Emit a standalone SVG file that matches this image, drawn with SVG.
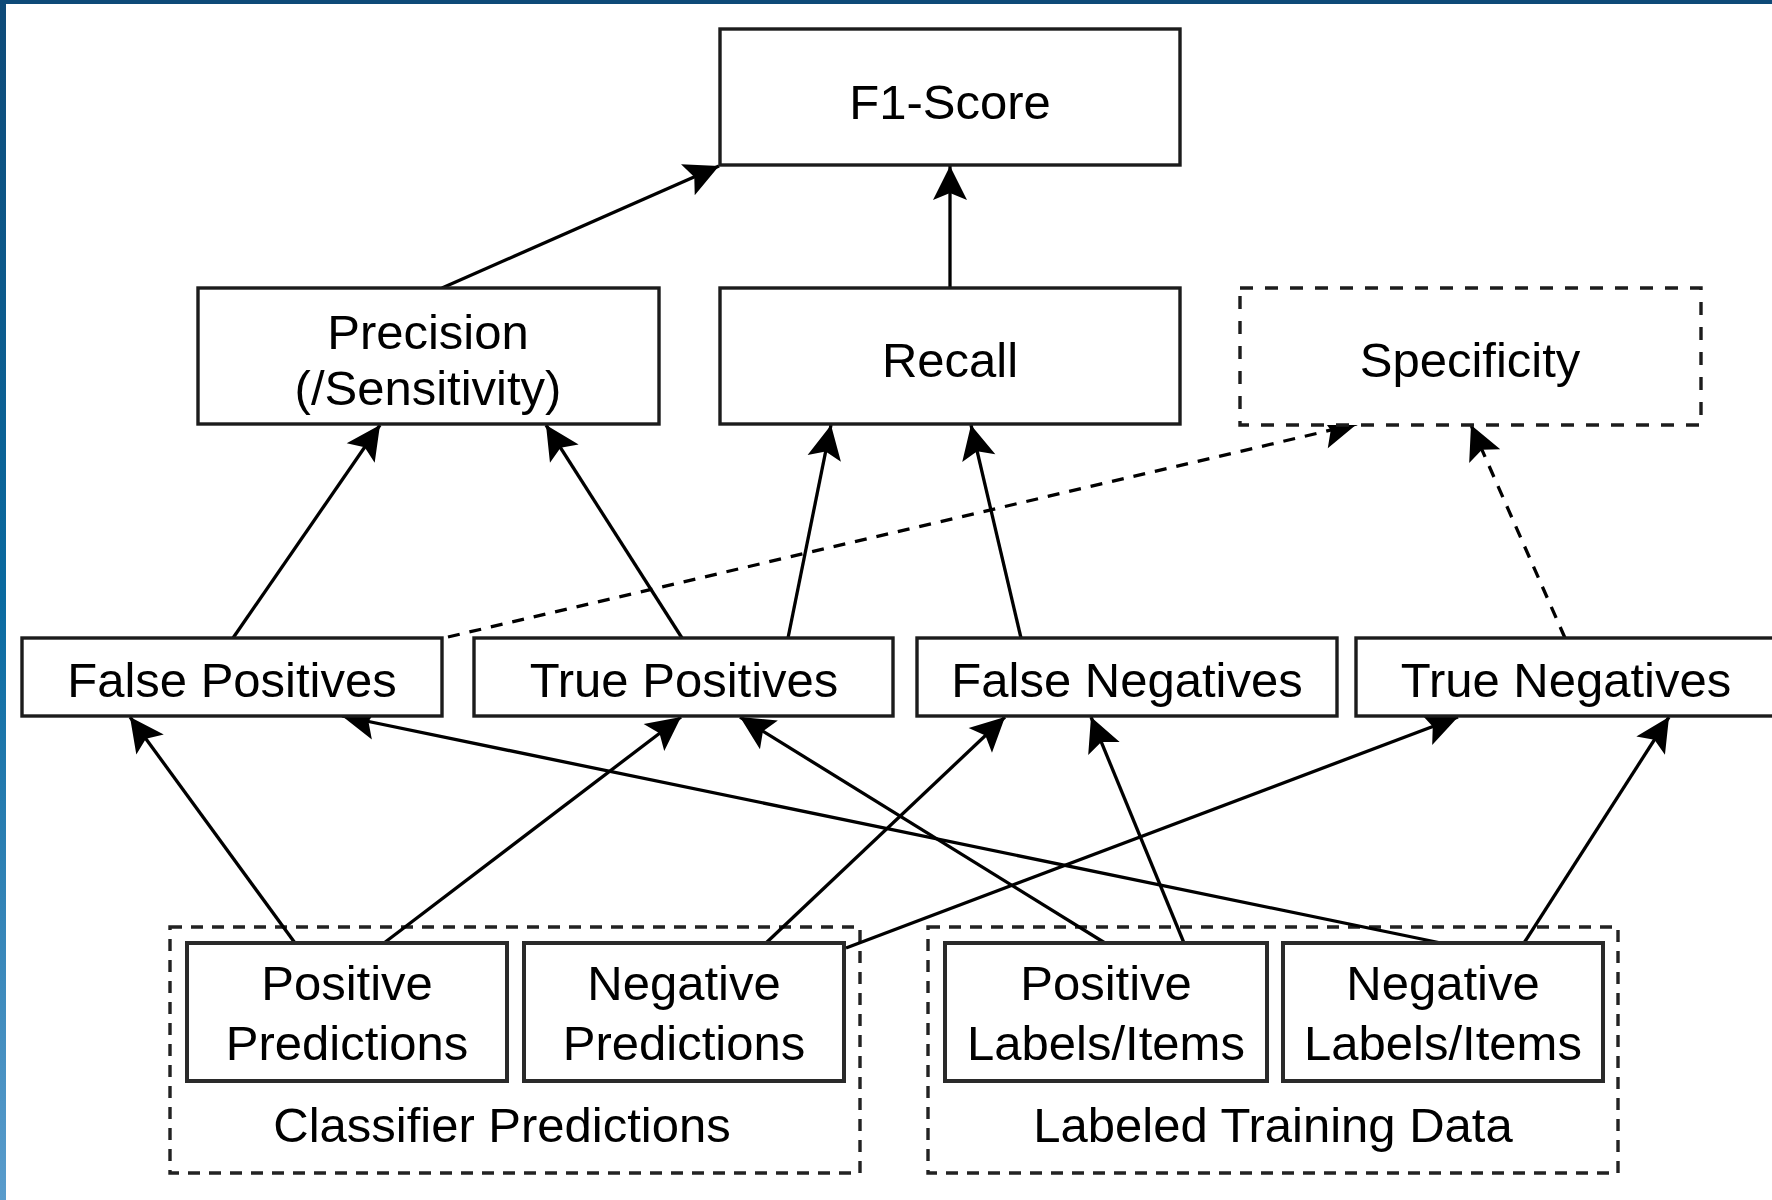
<svg xmlns="http://www.w3.org/2000/svg" width="1772" height="1200" viewBox="0 0 1772 1200">
<defs>
<linearGradient id="leftBar" x1="0" y1="0" x2="0" y2="1">
<stop offset="0" stop-color="#0e4a78"/>
<stop offset="0.5" stop-color="#0a6aa0"/>
<stop offset="1" stop-color="#5a9ccc"/>
</linearGradient>
<marker id="arr" markerUnits="userSpaceOnUse" markerWidth="44" markerHeight="40" viewBox="-36 -20 40 40" refX="0" refY="0" orient="auto">
<path d="M0,0 L-34,-17 L-27,0 L-34,17 Z" fill="#000"/>
</marker>
<style>
.box{fill:#fff;stroke:#1c1c1c;stroke-width:3.4}
.bbox{fill:#fff;stroke:#2a2a2a;stroke-width:4}
.dbox{fill:#fff;stroke:#1c1c1c;stroke-width:3.4;stroke-dasharray:13 12}
.grp{fill:none;stroke:#222;stroke-width:3.4;stroke-dasharray:12 9}
.lbl{font-family:"Liberation Sans",Arial,sans-serif;font-size:49px;fill:#000;text-anchor:middle}
.edge{fill:none;stroke:#000;stroke-width:3.3;marker-end:url(#arr)}
.dash{stroke-dasharray:12 10}
</style>
</defs>
<rect x="0" y="0" width="1772" height="1200" fill="#fff"/>
<rect x="0" y="0" width="1772" height="4" fill="#0e4a78"/>
<rect x="0" y="0" width="6" height="1200" fill="url(#leftBar)"/>

<g id="group-classifier">
<rect class="grp" x="170" y="927" width="690" height="246"/>
<text class="lbl" x="502" y="1142">Classifier Predictions</text>
</g>
<g id="group-training">
<rect class="grp" x="928" y="927" width="690" height="246"/>
<text class="lbl" x="1273" y="1142">Labeled Training Data</text>
</g>

<g id="connectors">
<line class="edge" x1="442" y1="288" x2="719" y2="166"/>
<line class="edge" x1="950" y1="288" x2="950" y2="166"/>
<line class="edge" x1="233" y1="638" x2="380" y2="425"/>
<line class="edge" x1="682" y1="638" x2="546" y2="425"/>
<line class="edge" x1="788" y1="638" x2="831" y2="425"/>
<line class="edge" x1="1021" y1="638" x2="971" y2="425"/>
<line class="edge dash" x1="448" y1="637" x2="1357" y2="424"/>
<line class="edge dash" x1="1565" y1="638" x2="1471" y2="425"/>
<line class="edge" x1="295" y1="943" x2="130" y2="717"/>
<line class="edge" x1="384" y1="943" x2="681" y2="717"/>
<line class="edge" x1="766" y1="943" x2="1005" y2="717"/>
<line class="edge" x1="846" y1="948" x2="1458" y2="717"/>
<line class="edge" x1="1105" y1="943" x2="740" y2="717"/>
<line class="edge" x1="1184" y1="943" x2="1091" y2="717"/>
<line class="edge" x1="1441" y1="943" x2="342" y2="716"/>
<line class="edge" x1="1524" y1="943" x2="1669" y2="717"/>
</g>

<g id="f1-score">
<rect class="box" x="720" y="29" width="460" height="136"/>
<text class="lbl" x="950" y="119">F1-Score</text>
</g>
<g id="precision">
<rect class="box" x="198" y="288" width="461" height="136"/>
<text class="lbl" x="428" y="349">Precision</text>
<text class="lbl" x="428" y="405">(/Sensitivity)</text>
</g>
<g id="recall">
<rect class="box" x="720" y="288" width="460" height="136"/>
<text class="lbl" x="950" y="377">Recall</text>
</g>
<g id="specificity">
<rect class="dbox" x="1240" y="288" width="461" height="137"/>
<text class="lbl" x="1470" y="377">Specificity</text>
</g>
<g id="false-positives">
<rect class="box" x="22" y="638" width="420" height="78"/>
<text class="lbl" x="232" y="697">False Positives</text>
</g>
<g id="true-positives">
<rect class="box" x="474" y="638" width="419" height="78"/>
<text class="lbl" x="684" y="697">True Positives</text>
</g>
<g id="false-negatives">
<rect class="box" x="917" y="638" width="420" height="78"/>
<text class="lbl" x="1127" y="697">False Negatives</text>
</g>
<g id="true-negatives">
<rect class="box" x="1356" y="638" width="420" height="78"/>
<text class="lbl" x="1566" y="697">True Negatives</text>
</g>
<g id="positive-predictions">
<rect class="bbox" x="187" y="943" width="320" height="138"/>
<text class="lbl" x="347" y="1000">Positive</text>
<text class="lbl" x="347" y="1060">Predictions</text>
</g>
<g id="negative-predictions">
<rect class="bbox" x="524" y="943" width="320" height="138"/>
<text class="lbl" x="684" y="1000">Negative</text>
<text class="lbl" x="684" y="1060">Predictions</text>
</g>
<g id="positive-labels">
<rect class="bbox" x="945" y="943" width="322" height="138"/>
<text class="lbl" x="1106" y="1000">Positive</text>
<text class="lbl" x="1106" y="1060">Labels/Items</text>
</g>
<g id="negative-labels">
<rect class="bbox" x="1283" y="943" width="320" height="138"/>
<text class="lbl" x="1443" y="1000">Negative</text>
<text class="lbl" x="1443" y="1060">Labels/Items</text>
</g>
</svg>
